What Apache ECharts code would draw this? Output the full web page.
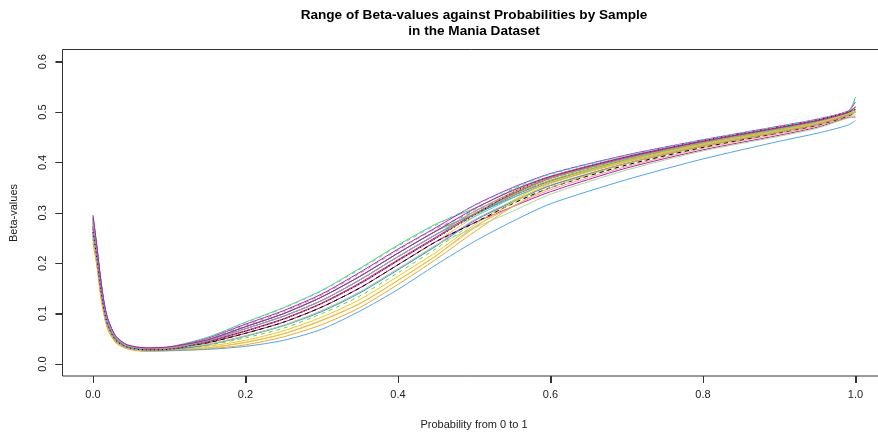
<!DOCTYPE html>
<html>
<head>
<meta charset="utf-8">
<script src="https://cdn.jsdelivr.net/npm/echarts@6/dist/echarts.min.js"></script>
<style>
html,body{margin:0;padding:0;background:#fff;}
#c{width:878px;height:432px;}
</style>
</head>
<body>
<div id="c"></div>
<script>
// Probability grid (x) shared by all samples
const probs = [0, 0.005, 0.01, 0.015, 0.02, 0.03, 0.045, 0.07, 0.1, 0.15, 0.2, 0.25, 0.3, 0.35, 0.4, 0.45, 0.5, 0.55, 0.6, 0.7, 0.8, 0.9, 0.95, 0.99, 1.0];

// Beta-value quantile curves, one per sample
const s01 = [.295,.235,.170,.118,.087,.055,.038,.032,.034,.053,.083,.112,.146,.190,.236,.278,.309,.345,.373,.412,.443,.470,.484,.500,.530];
const s02 = [.290,.231,.167,.116,.085,.054,.037,.031,.033,.051,.079,.106,.139,.182,.228,.271,.315,.350,.378,.415,.445,.472,.486,.502,.520];
const s03 = [.284,.227,.163,.113,.083,.052,.036,.031,.032,.048,.074,.100,.133,.174,.220,.264,.306,.347,.377,.414,.444,.471,.485,.501,.515];
const s04 = [.268,.215,.153,.106,.077,.049,.034,.029,.030,.044,.065,.089,.120,.159,.205,.250,.297,.334,.364,.405,.438,.465,.480,.497,.505];
const s05 = [.279,.223,.160,.111,.081,.051,.036,.030,.032,.046,.070,.095,.126,.167,.213,.257,.302,.341,.372,.411,.442,.469,.483,.499,.510];
const s06 = [.273,.219,.156,.108,.079,.050,.035,.029,.031,.042,.061,.083,.113,.151,.197,.243,.292,.336,.368,.408,.440,.468,.482,.499,.505];
const s07 = [.286,.228,.164,.114,.084,.053,.037,.031,.033,.050,.077,.104,.137,.180,.226,.269,.302,.338,.368,.407,.439,.467,.481,.498,.510];
const s08 = [.262,.211,.149,.103,.074,.047,.033,.028,.029,.046,.070,.095,.126,.167,.213,.257,.296,.333,.363,.404,.437,.464,.479,.496,.500];
const s09 = [.257,.207,.146,.101,.072,.046,.032,.027,.028,.039,.056,.077,.106,.143,.189,.236,.286,.323,.355,.399,.433,.461,.476,.494,.500];
const s10 = [.279,.223,.160,.111,.081,.051,.036,.030,.032,.048,.074,.100,.133,.174,.220,.264,.297,.330,.360,.402,.435,.463,.478,.496,.500];
const s11 = [.268,.215,.153,.106,.077,.049,.034,.029,.030,.045,.066,.090,.121,.161,.207,.252,.298,.337,.369,.409,.441,.468,.483,.499,.505];
const s12 = [.251,.203,.142,.098,.070,.045,.032,.026,.028,.037,.052,.071,.100,.135,.181,.229,.280,.318,.350,.395,.430,.459,.474,.492,.495];
const s13 = [.262,.211,.149,.103,.074,.047,.033,.028,.029,.042,.061,.083,.113,.151,.197,.243,.280,.312,.342,.389,.425,.454,.470,.489,.490];
const s14 = [.273,.219,.156,.108,.079,.050,.035,.029,.031,.046,.070,.095,.126,.167,.213,.257,.292,.329,.361,.403,.436,.464,.479,.497,.500];
const s15 = [.246,.199,.139,.096,.068,.043,.031,.026,.027,.035,.047,.066,.093,.128,.174,.222,.276,.324,.361,.404,.437,.465,.480,.497,.505];
const s16 = [.248,.200,.140,.097,.069,.044,.031,.026,.027,.032,.043,.060,.087,.120,.166,.215,.272,.312,.346,.392,.428,.457,.472,.491,.495];
const s17 = [.255,.205,.145,.100,.071,.045,.032,.027,.028,.038,.055,.076,.104,.141,.187,.234,.284,.321,.354,.398,.432,.460,.475,.493,.500];
const s18 = [.290,.231,.167,.116,.085,.054,.037,.031,.033,.048,.074,.100,.133,.174,.220,.264,.298,.335,.365,.406,.439,.466,.481,.498,.505];
const s19 = [.273,.219,.156,.108,.079,.050,.035,.029,.031,.042,.061,.083,.113,.151,.197,.243,.280,.318,.350,.395,.430,.459,.474,.492,.500];
const s20 = [.240,.195,.135,.093,.066,.042,.030,.025,.026,.030,.038,.054,.078,.112,.158,.208,.262,.312,.350,.398,.432,.460,.475,.493,.500];
const s21 = [.251,.203,.142,.098,.070,.045,.032,.026,.028,.032,.043,.060,.086,.120,.166,.215,.270,.320,.358,.402,.435,.463,.478,.496,.500];
const s22 = [.279,.223,.160,.111,.081,.051,.036,.030,.032,.039,.056,.077,.106,.143,.189,.236,.270,.303,.337,.385,.423,.452,.468,.488,.490];
const s23 = [.268,.215,.153,.106,.077,.049,.034,.029,.030,.044,.065,.089,.120,.159,.205,.250,.297,.338,.370,.411,.442,.469,.484,.500,.510];
const s24 = [.260,.210,.150,.103,.074,.047,.033,.027,.027,.029,.035,.047,.069,.105,.148,.197,.243,.283,.318,.366,.407,.442,.458,.474,.483];
const s25 = [.290,.231,.167,.116,.085,.054,.037,.031,.033,.052,.082,.111,.145,.188,.234,.276,.314,.349,.377,.414,.445,.472,.486,.502,.525];
const s26 = [.284,.227,.163,.113,.083,.052,.036,.031,.032,.046,.070,.095,.126,.167,.213,.257,.303,.339,.369,.408,.440,.468,.482,.499,.510];
const s27 = [.262,.211,.149,.103,.074,.047,.033,.028,.029,.044,.065,.089,.120,.159,.205,.250,.295,.340,.372,.411,.443,.470,.484,.500,.505];
const s28 = [.295,.235,.170,.118,.087,.055,.038,.032,.034,.048,.074,.100,.133,.174,.220,.264,.308,.344,.372,.411,.442,.469,.483,.499,.510];

const samples = [s01,s02,s03,s04,s05,s06,s07,s08,s09,s10,s11,s12,s13,s14,s15,s16,s17,s18,s19,s20,s21,s22,s23,s24,s25,s26,s27,s28];

// Axis ranges / tick values
const xRange = [0, 1], xStep = 0.2;
const yRange = [0, 0.6], yStep = 0.1;
const xTicks = [0, 0.2, 0.4, 0.6, 0.8, 1.0];
const yTicks = [0, 0.1, 0.2, 0.3, 0.4, 0.5, 0.6];

// Styling (kept apart from data)
const lineColors = ['#61D04F','#CD0BBC','#28E2E5','#000000','#F5A623','#F5C710','#9E9E9E','#DF536B','#F08FB0','#2297E6',
                    '#CD0BBC','#61D04F','#CD0BBC','#28E2E5','#F5C710','#F4A0A0','#2297E6','#61D04F','#000000','#F5A623',
                    '#F5C710','#A0E090','#DF536B','#4AA8F0','#28E2E5','#9E9E9E','#000000','#CD0BBC'];
const lineTypes = ['solid','solid',[4,4],[1,3],'solid','solid',[4,4],'solid','solid','solid',
                   'solid',[4,4],'solid','solid','solid','solid','solid','solid',[4,4],'solid',
                   'solid','solid','solid','solid',[4,4],'solid',[1,3],'solid'];

// Layout (R-style frame sits 4% outside the data region)
const frame = { x: 62.5, y: 49.5, w: 823.5, h: 326.5 };
const tickLen = 7;

const font = "'Liberation Sans', Arial, sans-serif";
const chart = echarts.init(document.getElementById('c'), null, {renderer:'canvas'});

const series = samples.map((vals, k) => ({
  type: 'line',
  data: probs.map((p, i) => [p, vals[i]]),
  showSymbol: false,
  smooth: 0.25,
  silent: true,
  clip: false,
  lineStyle: { width: 1, color: lineColors[k], type: lineTypes[k] },
  z: 2
}));

const baseGraphic = [
  { id: 'frame', type: 'rect', shape: { x: frame.x, y: frame.y, width: frame.w, height: frame.h }, style: { fill: null, stroke: '#333', lineWidth: 1 }, silent: true, z: 10 },
  { id: 't1', type: 'text', x: 474, y: 15, style: { text: 'Range of Beta-values against Probabilities by Sample', font: "bold 13.6px 'Liberation Sans', Arial, sans-serif", fill: '#000', textAlign: 'center', textVerticalAlign: 'middle' } },
  { id: 't2', type: 'text', x: 474, y: 31, style: { text: 'in the Mania Dataset', font: "bold 13.6px 'Liberation Sans', Arial, sans-serif", fill: '#000', textAlign: 'center', textVerticalAlign: 'middle' } },
  { id: 'xt', type: 'text', x: 474, y: 425, style: { text: 'Probability from 0 to 1', font: "11px 'Liberation Sans', Arial, sans-serif", fill: '#222', textAlign: 'center', textVerticalAlign: 'middle' } },
  { id: 'yt', type: 'text', x: 14, y: 213, rotation: Math.PI / 2, style: { text: 'Beta-values', font: "11px 'Liberation Sans', Arial, sans-serif", fill: '#222', textAlign: 'center', textVerticalAlign: 'middle' } }
];

chart.setOption({
  animation: false,
  backgroundColor: '#fff',
  grid: { left: 93, top: 61.7, width: 762.5, height: 302.3, outerBoundsMode: 'none', containLabel: false, show: false },
  xAxis: {
    type: 'value', min: xRange[0], max: xRange[1], interval: xStep, position: 'bottom', offset: 12,
    axisLine: { show: false, onZero: false },
    splitLine: { show: false },
    axisTick: { show: true, inside: false, length: tickLen, lineStyle: { color: '#333', width: 1 } },
    axisLabel: { margin: 13, fontFamily: font, fontSize: 11, color: '#222', formatter: v => v.toFixed(1) }
  },
  yAxis: {
    type: 'value', min: yRange[0], max: yRange[1], interval: yStep, position: 'left', offset: 30.5,
    axisLine: { show: false, onZero: false },
    splitLine: { show: false },
    axisTick: { show: true, inside: false, length: tickLen, lineStyle: { color: '#333', width: 1 } },
    axisLabel: { rotate: 90, margin: 14, fontFamily: font, fontSize: 11, color: '#222', formatter: v => v.toFixed(1) }
  },
  graphic: baseGraphic,
  series: series
});

// Tick marks placed through the chart's own scales, on the outside of the frame
const bottom = frame.y + frame.h, left = frame.x;
const tickMarks = [];
xTicks.forEach((v, i) => {
  const px = Math.round(chart.convertToPixel({ xAxisIndex: 0 }, v)) + 0.5;
  tickMarks.push({ id: 'xk' + i, type: 'line', silent: true, z: 11,
    shape: { x1: px, y1: bottom, x2: px, y2: bottom + tickLen }, style: { stroke: '#333', lineWidth: 1 } });
});
yTicks.forEach((v, i) => {
  const py = Math.round(chart.convertToPixel({ yAxisIndex: 0 }, v)) + 0.5;
  tickMarks.push({ id: 'yk' + i, type: 'line', silent: true, z: 11,
    shape: { x1: left - tickLen, y1: py, x2: left, y2: py }, style: { stroke: '#333', lineWidth: 1 } });
});
chart.setOption({ graphic: baseGraphic.concat(tickMarks) });
</script>
</body>
</html>
